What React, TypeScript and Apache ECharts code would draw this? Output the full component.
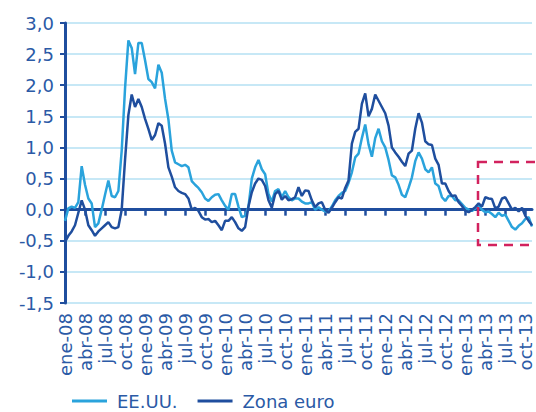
import React, { useEffect, useRef } from "react";
import * as echarts from "echarts";

const quarterLabels = [
  "ene-08", "abr-08", "jul-08", "oct-08",
  "ene-09", "abr-09", "jul-09", "oct-09",
  "ene-10", "abr-10", "jul-10", "oct-10",
  "ene-11", "abr-11", "jul-11", "oct-11",
  "ene-12", "abr-12", "jul-12", "oct-12",
  "ene-13", "abr-13", "jul-13", "oct-13",
];

// half-month observations, Jan 2008 → end Oct 2013
const eeuu = [
  -0.18, 0.02, 0.05, 0.03, 0.12, 0.7, 0.4, 0.18, 0.1, -0.28,
  -0.22, 0.0, 0.24, 0.47, 0.22, 0.2, 0.3, 0.95, 1.95, 2.72,
  2.6, 2.18, 2.68, 2.68, 2.4, 2.1, 2.05, 1.95, 2.33, 2.2,
  1.78, 1.45, 0.95, 0.76, 0.73, 0.7, 0.72, 0.68, 0.46, 0.4,
  0.35, 0.28, 0.18, 0.14, 0.2, 0.24, 0.25, 0.15, 0.06, 0.0,
  0.25, 0.25, 0.05, -0.12, -0.1, 0.05, 0.5, 0.68, 0.8, 0.65,
  0.57, 0.25, 0.13, 0.3, 0.33, 0.2, 0.3, 0.2, 0.15, 0.18,
  0.18, 0.13, 0.1, 0.1, 0.12, 0.0, 0.04, 0.0, -0.03, -0.03,
  0.05, 0.15, 0.22, 0.27, 0.3, 0.43, 0.6, 0.84, 0.9, 1.15,
  1.37, 1.05, 0.85, 1.15, 1.3, 1.1, 1.0, 0.8, 0.55, 0.52,
  0.4, 0.24, 0.2, 0.35, 0.52, 0.78, 0.92, 0.82, 0.65, 0.6,
  0.68, 0.42, 0.38, 0.2, 0.14, 0.22, 0.22, 0.15, 0.15, 0.09,
  0.03, 0.0, -0.02, 0.02, 0.07, 0.0, -0.04, -0.03, -0.07, -0.12,
  -0.05, -0.1, -0.08, -0.18, -0.28, -0.32, -0.26, -0.22, -0.15, -0.12,
  -0.27,
];

const zonaEuro = [
  -0.52, -0.42, -0.35, -0.25, -0.05, 0.15, 0.0, -0.25, -0.33, -0.42,
  -0.35, -0.3, -0.25, -0.2, -0.28, -0.3, -0.28, 0.0, 0.8, 1.52,
  1.85, 1.65, 1.78, 1.65, 1.46, 1.3, 1.12, 1.2, 1.39, 1.35,
  1.06, 0.68, 0.53, 0.36, 0.3, 0.27, 0.25, 0.18, 0.0, 0.03,
  -0.02, -0.12, -0.16, -0.15, -0.2, -0.18, -0.25, -0.33, -0.18, -0.18,
  -0.12, -0.2, -0.3, -0.34, -0.28, 0.05, 0.28, 0.42, 0.5, 0.48,
  0.38, 0.15, 0.03, 0.25, 0.3, 0.16, 0.22, 0.15, 0.17, 0.2,
  0.36, 0.22, 0.31, 0.3, 0.15, 0.04, 0.1, 0.12, 0.0, -0.05,
  0.03, 0.12, 0.2, 0.18, 0.35, 0.47, 1.06, 1.25, 1.3, 1.7,
  1.87, 1.5, 1.62, 1.85, 1.75, 1.65, 1.55, 1.35, 1.0, 0.92,
  0.85, 0.77, 0.7, 0.9, 0.95, 1.3, 1.55, 1.4, 1.1, 1.05,
  1.04, 0.82, 0.72, 0.42, 0.42, 0.3, 0.22, 0.23, 0.12, 0.06,
  -0.02, -0.04, 0.0, 0.04, 0.1, 0.05, 0.2, 0.18, 0.17, 0.02,
  0.05, 0.18, 0.2, 0.1, 0.0, 0.03, -0.03, 0.03, -0.1, -0.18,
  -0.25,
];

const categories = eeuu.map((_, i) => String(i));

const DARK = "#1f4e9e";
const LIGHT = "#2aa3dc";
const TEXT = "#2b5aa6";
const GRID = "#b5e0f3";
const FONT = "DejaVu Sans";

export default function App() {
  const ref = useRef<HTMLDivElement>(null);

  useEffect(() => {
    if (!ref.current) return;
    const chart = echarts.init(ref.current, undefined, { renderer: "svg" });
    chart.setOption({
      animation: false,
      backgroundColor: "#ffffff",
      grid: { left: 65, top: 23, right: 4, bottom: 109, containLabel: false },
      legend: {
        data: ["EE.UU.", "Zona euro"],
        left: 72,
        top: 392,
        padding: 0,
        icon: "rect",
        itemWidth: 35,
        itemHeight: 3,
        itemGap: 20,
        textStyle: {
          color: TEXT,
          fontSize: 18,
          lineHeight: 14,
          fontFamily: FONT,
          padding: [0, 0, 0, 5],
        },
      },
      xAxis: [
        {
          type: "category",
          data: categories,
          boundaryGap: false,
          position: "bottom",
          axisLine: { show: false, onZero: false },
          axisTick: { show: false },
          splitLine: { show: false },
          axisLabel: {
            interval: 5,
            rotate: 90,
            margin: 10,
            color: TEXT,
            fontSize: 18,
            fontFamily: FONT,
            formatter: (_v: string, idx: number) =>
              idx % 6 === 0 ? quarterLabels[idx / 6] ?? "" : "",
          },
        },
        {
          type: "category",
          data: categories,
          boundaryGap: false,
          position: "top",
          axisLine: { show: true, onZero: true, lineStyle: { color: DARK, width: 3 } },
          axisTick: {
            show: true,
            interval: 5,
            inside: true,
            length: 6,
            lineStyle: { color: DARK, width: 2.5 },
          },
          axisLabel: { show: false },
          splitLine: { show: false },
        },
      ],
      yAxis: {
        type: "value",
        min: -1.5,
        max: 3,
        interval: 0.5,
        axisLine: { show: true, lineStyle: { color: DARK, width: 3 } },
        axisTick: { show: true, length: 5, lineStyle: { color: DARK, width: 2 } },
        splitLine: { show: true, lineStyle: { color: GRID, width: 1.5 } },
        axisLabel: {
          margin: 11,
          color: TEXT,
          fontSize: 18,
          fontFamily: FONT,
          formatter: (v: number) => v.toFixed(1).replace(".", ","),
        },
      },
      series: [
        {
          name: "EE.UU.",
          type: "line",
          data: eeuu,
          xAxisIndex: 0,
          showSymbol: false,
          symbol: "none",
          lineStyle: { color: LIGHT, width: 2.5 },
          itemStyle: { color: LIGHT },
          z: 3,
        },
        {
          name: "Zona euro",
          type: "line",
          data: zonaEuro,
          xAxisIndex: 0,
          showSymbol: false,
          symbol: "none",
          lineStyle: { color: DARK, width: 2.5 },
          itemStyle: { color: DARK },
          z: 4,
        },
      ],
      graphic: [
        {
          type: "rect",
          shape: { x: 478, y: 162, width: 80, height: 83 },
          style: { fill: "none", stroke: "#d2225e", lineWidth: 2.5, lineDash: [9, 7] },
          z: 100,
        },
      ],
    });
    return () => chart.dispose();
  }, []);

  return (
    <div
      ref={ref}
      style={{ position: "fixed", left: 0, top: 0, width: 536, height: 412 }}
    />
  );
}
